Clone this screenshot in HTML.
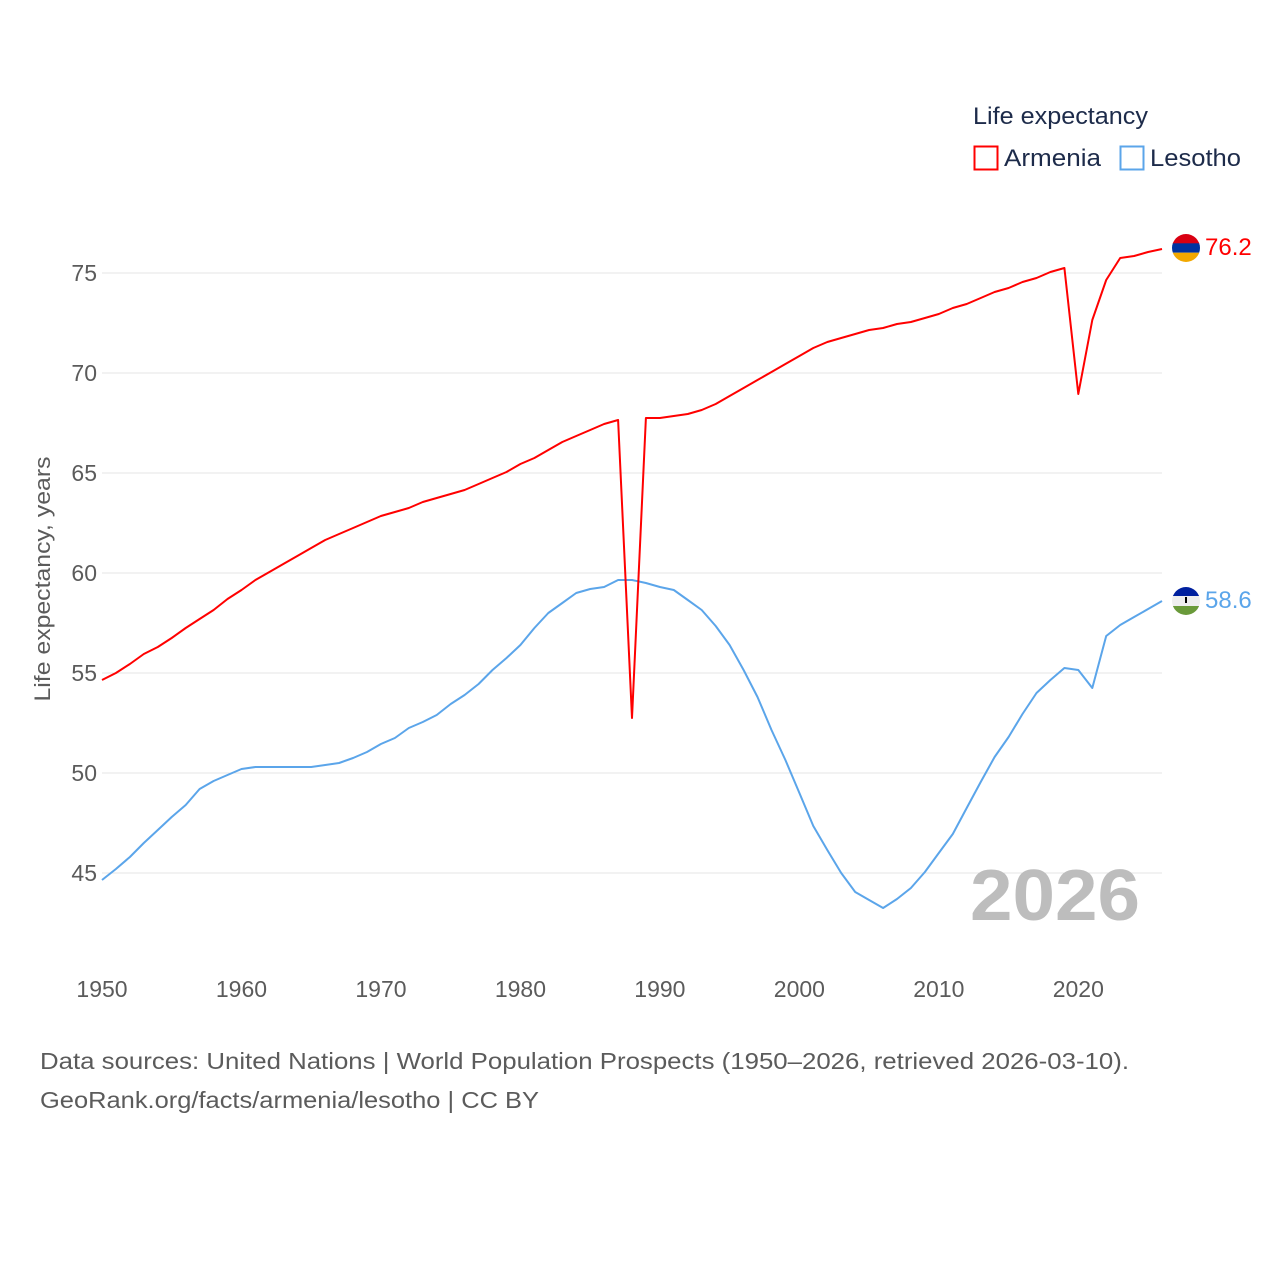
<!DOCTYPE html>
<html><head><meta charset="utf-8"><style>
body{margin:0;background:#fff;font-family:"Liberation Sans",sans-serif}
svg text{font-family:"Liberation Sans",sans-serif}
</style></head><body>
<svg id="chart" width="1280" height="1280" viewBox="0 0 1280 1280">
<defs>
<clipPath id="c1"><circle cx="1186" cy="248" r="14"/></clipPath>
<clipPath id="c2"><circle cx="1186" cy="601" r="14"/></clipPath>
</defs>
<g id="grid"></g>
<g id="yticks"></g>
<g id="xticks"></g>
<text transform="translate(50,579) rotate(-90)" text-anchor="middle" font-size="22" fill="#5b5b5b" textLength="245" lengthAdjust="spacingAndGlyphs">Life expectancy, years</text>
<text x="1140" y="920" text-anchor="end" font-size="72" font-weight="bold" fill="#bdbdbd" textLength="170" lengthAdjust="spacingAndGlyphs">2026</text>
<g id="series"></g>
<g clip-path="url(#c1)">
<rect x="1172" y="234" width="28" height="10" fill="#d90012"/><rect x="1172" y="243.3" width="28" height="9.4" fill="#0033a0"/><rect x="1172" y="252.7" width="28" height="10" fill="#f2a800"/></g>
<text x="1205" y="255" font-size="24" fill="#ff0000">76.2</text>
<g clip-path="url(#c2)">
<rect x="1172" y="587" width="28" height="9" fill="#00209f"/><rect x="1172" y="596" width="28" height="10" fill="#eee"/><rect x="1172" y="606" width="28" height="10" fill="#6a9a3a"/><rect x="1185" y="597" width="2" height="6" fill="#000"/></g>
<text x="1205" y="608" font-size="24" fill="#5ba5ea">58.6</text>
<g>
<text x="973" y="124" font-size="24" fill="#1d2b4a" textLength="175" lengthAdjust="spacingAndGlyphs">Life expectancy</text>
<rect x="974.5" y="146.5" width="23" height="23" fill="none" stroke="#ff0000" stroke-width="2"/>
<text x="1004" y="166" font-size="24" fill="#1d2b4a" textLength="97" lengthAdjust="spacingAndGlyphs">Armenia</text>
<rect x="1120.5" y="146.5" width="23" height="23" fill="none" stroke="#5ba5ea" stroke-width="2"/>
<text x="1150" y="166" font-size="24" fill="#1d2b4a" textLength="91" lengthAdjust="spacingAndGlyphs">Lesotho</text>
</g>
<text x="40" y="1069" font-size="23" fill="#5b5b5b" textLength="1089" lengthAdjust="spacingAndGlyphs">Data sources: United Nations | World Population Prospects (1950–2026, retrieved 2026-03-10).</text>
<text x="40" y="1108" font-size="23" fill="#5b5b5b" textLength="499" lengthAdjust="spacingAndGlyphs">GeoRank.org/facts/armenia/lesotho | CC BY</text>
</svg>
<script>
const years=[];for(let y=1950;y<=2026;y++)years.push(y);
const armenia=[54.65,55.0,55.45,55.95,56.3,56.75,57.25,57.7,58.15,58.7,59.15,59.65,60.05,60.45,60.85,61.25,61.65,61.95,62.25,62.55,62.85,63.05,63.25,63.55,63.75,63.95,64.15,64.45,64.75,65.05,65.45,65.75,66.15,66.55,66.85,67.15,67.45,67.65,52.75,67.75,67.75,67.85,67.95,68.15,68.45,68.85,69.25,69.65,70.05,70.45,70.85,71.25,71.55,71.75,71.95,72.15,72.25,72.45,72.55,72.75,72.95,73.25,73.45,73.75,74.05,74.25,74.55,74.75,75.05,75.25,68.95,72.65,74.65,75.75,75.85,76.05,76.2];
const lesotho=[44.65,45.2,45.8,46.5,47.15,47.8,48.4,49.2,49.6,49.9,50.2,50.3,50.3,50.3,50.3,50.3,50.4,50.5,50.75,51.05,51.45,51.75,52.25,52.55,52.9,53.45,53.9,54.45,55.15,55.75,56.4,57.25,58.0,58.5,59.0,59.2,59.3,59.65,59.65,59.5,59.3,59.15,58.65,58.15,57.35,56.4,55.15,53.8,52.15,50.65,49.0,47.35,46.15,45.0,44.05,43.65,43.25,43.7,44.25,45.05,46.0,46.95,48.25,49.55,50.8,51.8,52.95,54.0,54.65,55.25,55.15,54.25,56.85,57.4,57.8,58.2,58.6];
const yTicks=[45,50,55,60,65,70,75];
const xTicks=[1950,1960,1970,1980,1990,2000,2010,2020];
const X=y=>102+(y-1950)*(1060/76);
const Y=v=>273+(75-v)*20;
const NS='http://www.w3.org/2000/svg';
function mk(t,a,p){const e=document.createElementNS(NS,t);for(const k in a)e.setAttribute(k,a[k]);p.appendChild(e);return e;}
const grid=document.getElementById('grid'),yt=document.getElementById('yticks'),xt=document.getElementById('xticks'),ser=document.getElementById('series');
yTicks.forEach(v=>{
 const l=mk('line',{x1:102,x2:1162,y1:Y(v),y2:Y(v),stroke:'#e6e6e6','stroke-width':1},grid);
 
 
 const t=mk('text',{x:97,y:Y(v)+8,'text-anchor':'end','font-size':23,fill:'#5b5b5b'},yt);
 t.textContent=v;
 
 
});
xTicks.forEach(v=>{
 const t=mk('text',{x:X(v),y:997,'text-anchor':'middle','font-size':23,fill:'#5b5b5b'},xt);
 t.textContent=v;
 
 
});
function line(d,c,name){
 const p=mk('path',{d:d.map((v,i)=>(i?'L':'M')+X(years[i]).toFixed(1)+','+Y(v).toFixed(1)).join(''),fill:'none',stroke:c,'stroke-width':2,'stroke-linejoin':'round'},ser);
 
 
}
line(lesotho,'#5ba5ea','lesotho-line');
line(armenia,'#ff0000','armenia-line');
</script>
</body></html>
